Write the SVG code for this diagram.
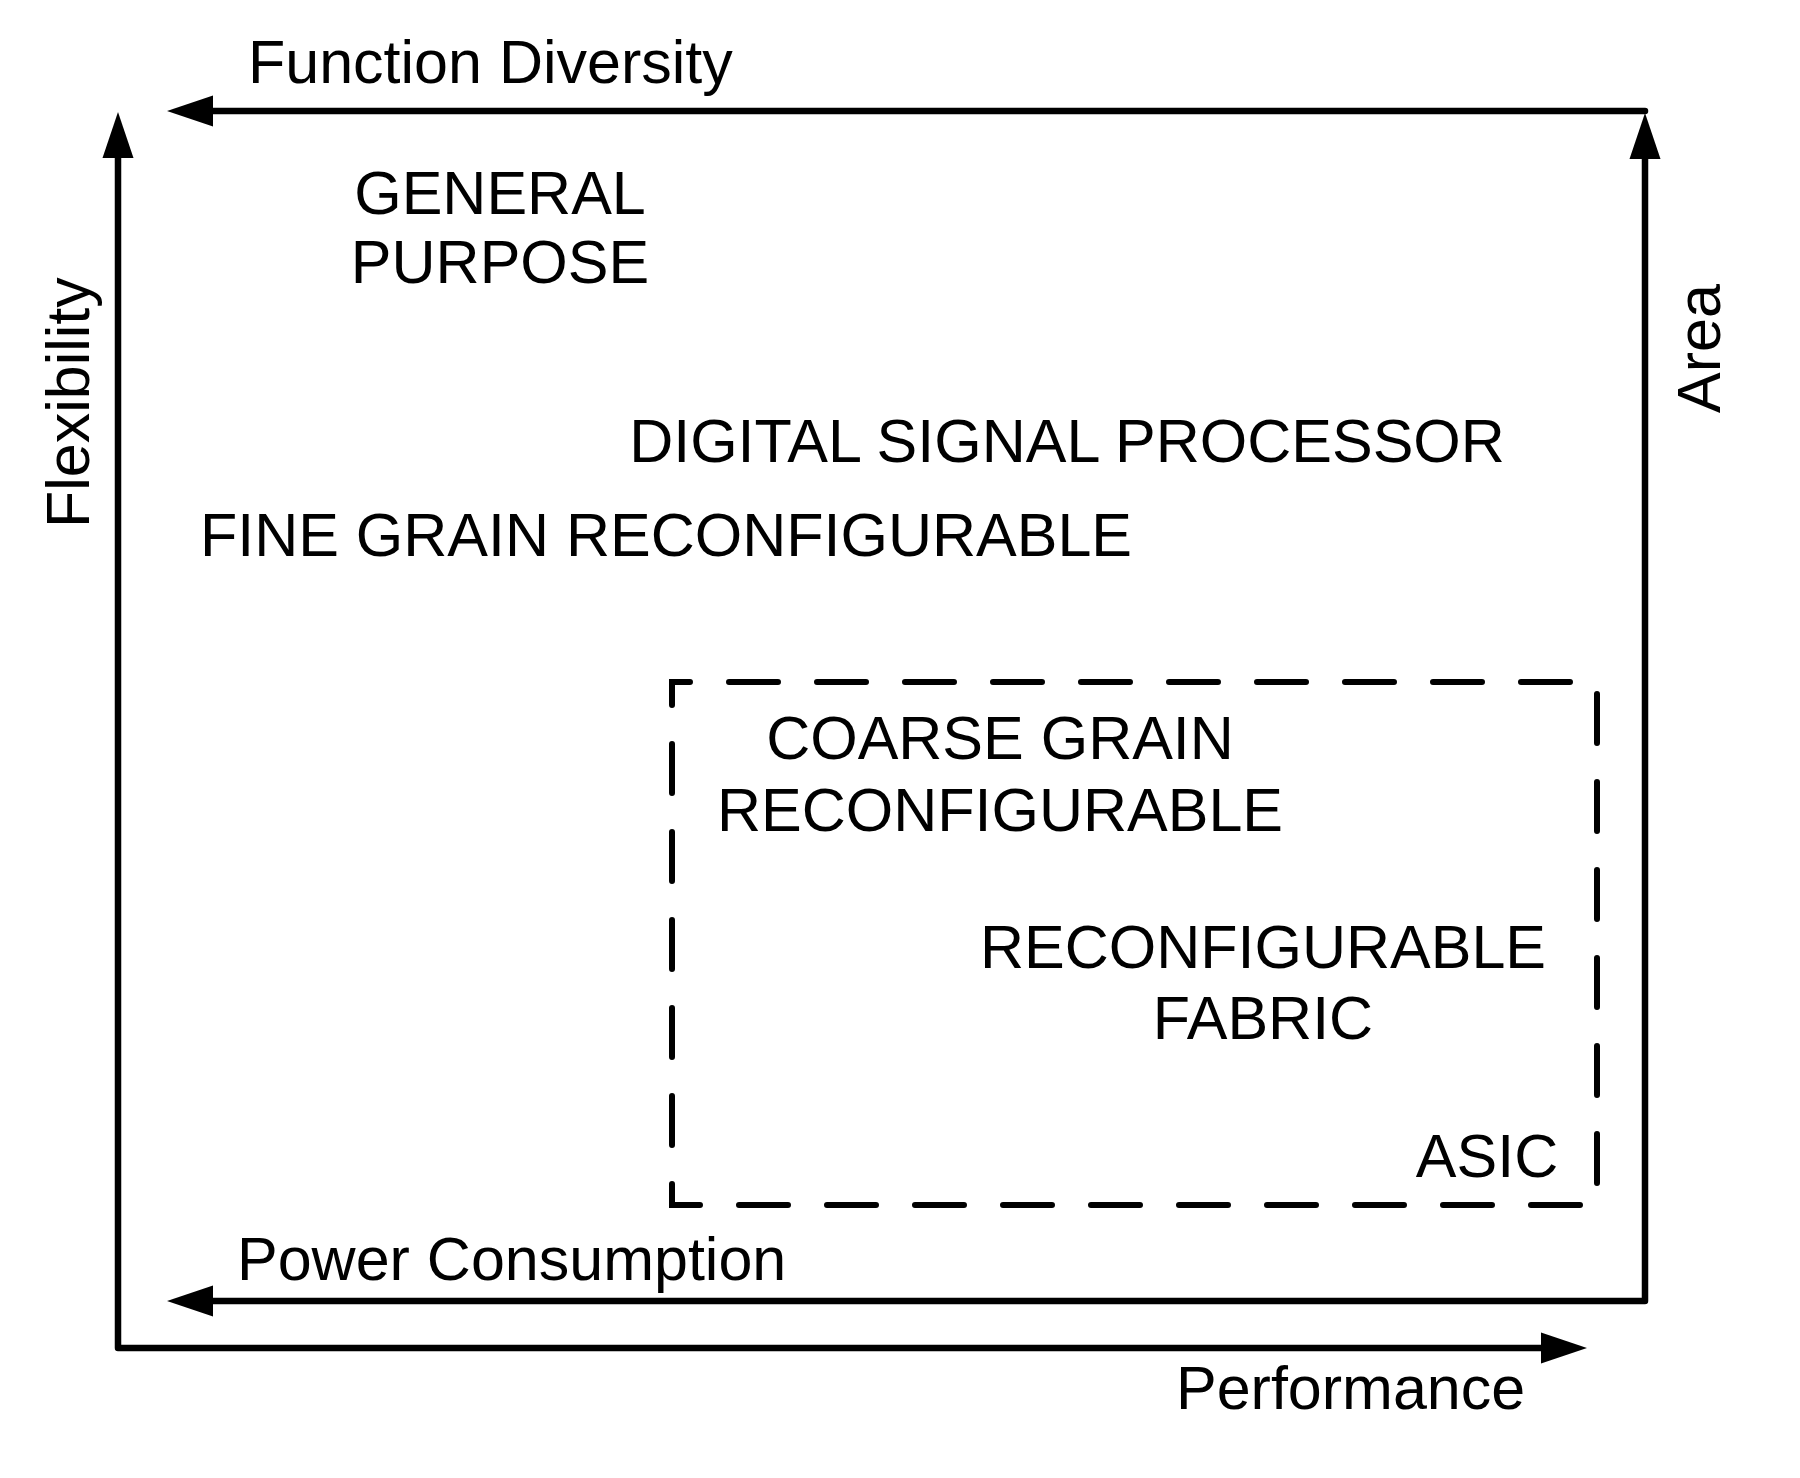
<svg xmlns="http://www.w3.org/2000/svg" width="1800" height="1478" viewBox="0 0 1800 1478">
<style>
.t{font-family:"Liberation Sans",Arial,sans-serif;font-size:61px;fill:#000}
.ax{fill:none;stroke:#000;stroke-width:6.5;stroke-linejoin:round;stroke-linecap:round}
.dash{fill:none;stroke:#000;stroke-width:6;stroke-linecap:round;stroke-dasharray:49 39;stroke-dashoffset:31}
</style>
<defs>
<marker id="ah" markerUnits="userSpaceOnUse" viewBox="0 -16 46 32" markerWidth="46" markerHeight="32" refX="0" refY="0" orient="auto-start-reverse">
<path d="M0,-15.5 L46,0 L0,15.5 Z" fill="#000"/>
</marker>
</defs>
<rect width="1800" height="1478" fill="#fff"/>
<g id="connectors">
<path class="ax" d="M118,158 L118,1348 L1541,1348" marker-start="url(#ah)" marker-end="url(#ah)"/>
<path class="ax" d="M1645,111 L213,111" marker-end="url(#ah)"/>
<path class="ax" d="M213,1301 L1645,1301 L1645,159" marker-start="url(#ah)" marker-end="url(#ah)"/>
</g>
<g id="region">
<path class="dash" d="M672,682 L1597,682 L1597,1205 L672,1205 Z"/>
</g>
<g id="labels">
<text class="t" x="248" y="83">Function Diversity</text>
<text class="t" transform="translate(89,528) rotate(-90)">Flexibility</text>
<text class="t" transform="translate(1720,413) rotate(-90)">Area</text>
<text class="t" x="237" y="1280">Power Consumption</text>
<text class="t" x="1176" y="1409">Performance</text>
</g>
<g id="general-purpose">
<text class="t" x="500" y="214" text-anchor="middle">GENERAL</text>
<text class="t" x="500" y="283" text-anchor="middle">PURPOSE</text>
</g>
<g id="dsp">
<text class="t" x="1067" y="462" text-anchor="middle">DIGITAL SIGNAL PROCESSOR</text>
</g>
<g id="fine-grain">
<text class="t" x="666" y="556" text-anchor="middle">FINE GRAIN RECONFIGURABLE</text>
</g>
<g id="coarse-grain">
<text class="t" x="1000" y="759" text-anchor="middle">COARSE GRAIN</text>
<text class="t" x="1000" y="831" text-anchor="middle">RECONFIGURABLE</text>
</g>
<g id="fabric">
<text class="t" x="1263" y="968" text-anchor="middle">RECONFIGURABLE</text>
<text class="t" x="1263" y="1039" text-anchor="middle">FABRIC</text>
</g>
<g id="asic">
<text class="t" x="1487" y="1177" text-anchor="middle">ASIC</text>
</g>
</svg>
